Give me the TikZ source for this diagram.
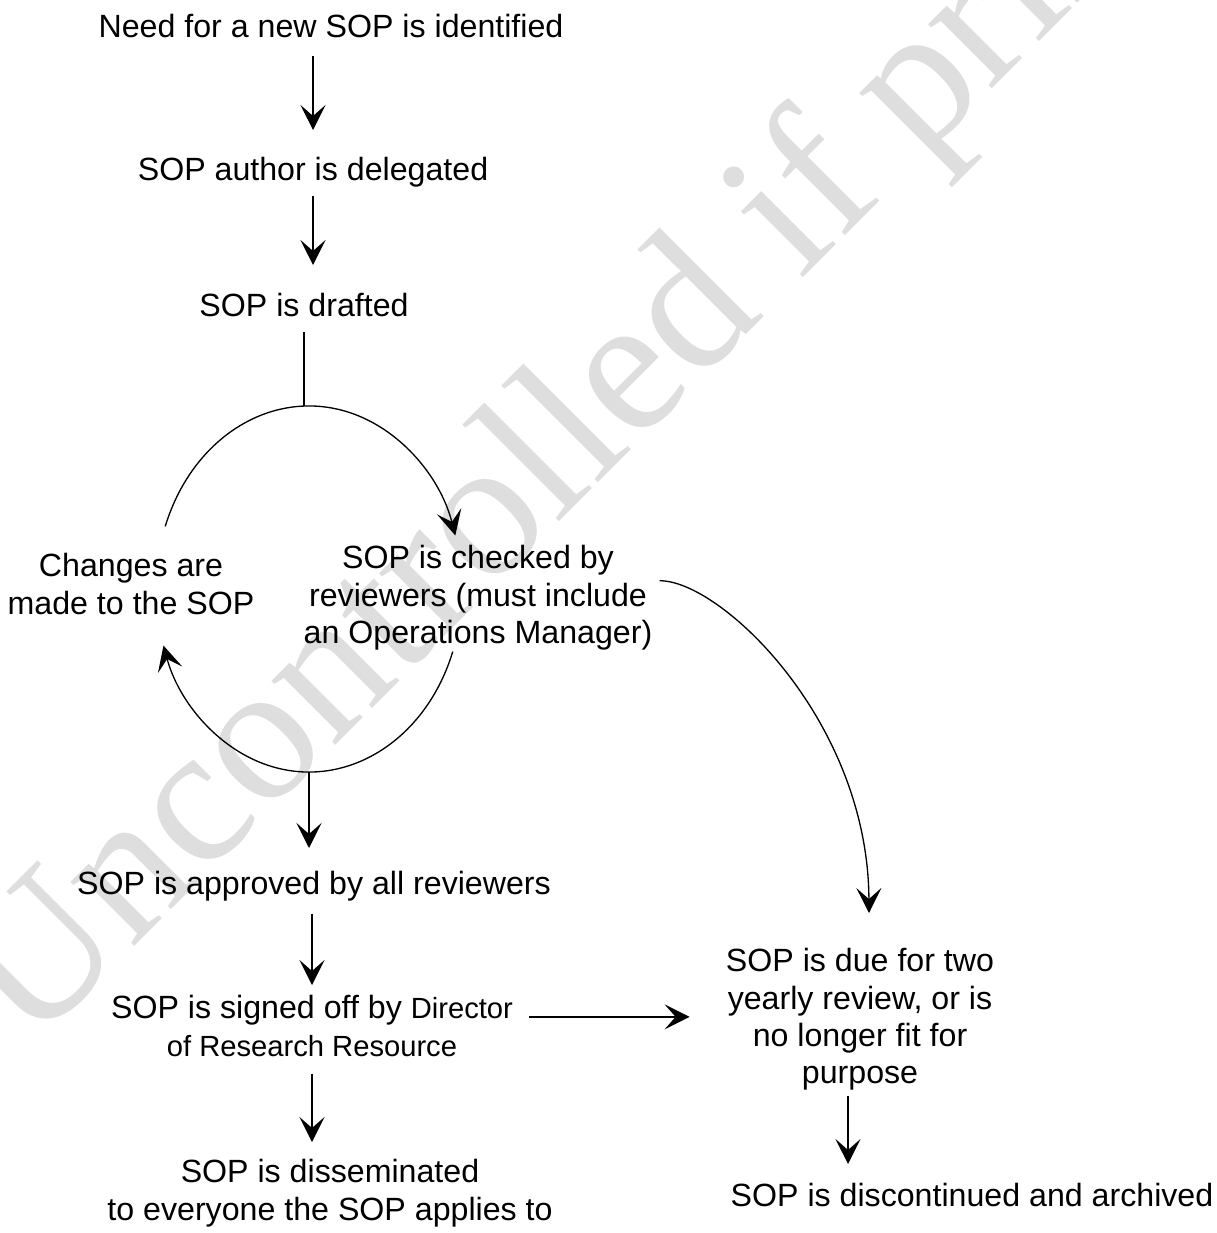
\documentclass[tikz,border=0pt]{standalone}
\usepackage{fontspec}
\setmainfont{Liberation Sans}
\newfontfamily\wmfont{Liberation Serif}
\usetikzlibrary{arrows.meta}

\newcommand{\smalltxt}{\fontsize{16.6}{21.3}\selectfont}

\tikzset{
	stage/.style={anchor=north, align=center, inner sep=0pt, font=\fontsize{18.3}{21.3}\selectfont},
	arr/.style={line width=0.75pt, -{Stealth[length=0.5cm, width=0.5cm, inset=0.22cm]}},
	link/.style={line width=0.75pt}
}

\begin{document}
\begin{tikzpicture}

		\useasboundingbox (0,0) rectangle (24.32,-24.66);

		% watermark
		\begin{scope}
			\clip (0,0) rectangle (24.32,-24.66);
			\node[anchor=base west, rotate=45, inner sep=0pt, text=black!13, font=\wmfont\fontsize{112}{120}\selectfont] (mark) at (0.62,-21.0) {Uncontrolled if printed};
		\end{scope}

		\node[stage] (need) at (6.62,-0.28) {Need for a new SOP is identified};
		\node[stage] (author) at (6.26,-3.14) {SOP author is delegated};
		\node[stage] (drafted) at (6.08,-5.86) {SOP is drafted};
		\node[stage] (changes) at (2.62,-11.06) {Changes are\\made to the SOP};
		\node[stage] (checked) at (9.56,-10.90) {SOP is checked by\\reviewers (must include\\an Operations Manager)};
		\node[stage] (approved) at (6.28,-17.42) {SOP is approved by all reviewers};
		\node[stage] (signed) at (6.24,-19.90) {SOP is signed off by {\smalltxt Director}\\{\smalltxt of Research Resource}};
		\node[stage] (dissem) at (6.60,-23.18) {SOP is disseminated\\to everyone the SOP applies to};
		\node[stage] (due) at (17.20,-18.96) {SOP is due for two\\yearly review, or is\\no longer fit for\\purpose};
		\node[stage] (disc) at (19.44,-23.66) {SOP is discontinued and archived};

		% review loop
		\coordinate (loop) at (6.18,-11.78);
		\coordinate (looptop) at ([yshift=3.66cm]loop);
		\coordinate (loopbot) at ([yshift=-3.66cm]loop);

		\draw[arr, shorten <=0.36cm, shorten >=0.54cm] (need.south -| author.north) -- (author.north);
		\draw[arr, shorten <=0.16cm, shorten >=0.56cm] (author.south) -- (author.south |- drafted.north);
		\draw[link, shorten <=0.3cm] (drafted.south) -- (drafted.south |- looptop);

		\draw[arr] ([shift={(160:3.06 and 3.66)}]loop) arc[start angle=160, end angle=17, x radius=3.06, y radius=3.66];
		\draw[arr] ([shift={(-20:3.06 and 3.66)}]loop) arc[start angle=-20, end angle=-162, x radius=3.06, y radius=3.66];

		\draw[arr, shorten >=0.46cm] (loopbot) -- (loopbot |- approved.north);
		\draw[arr, shorten <=0.24cm, shorten >=0.2cm] (approved.south -| signed.north) -- (signed.north);
		\draw[arr, shorten <=0.34cm, shorten >=0.34cm] (signed.south) -- (signed.south |- dissem.north);

		\draw[arr, shorten <=0.32cm, shorten >=0.72cm] ([yshift=0.18cm]signed.east) -- ([yshift=0.18cm]signed.east -| due.west);

		\coordinate (cstart) at ([xshift=0.14cm, yshift=0.34cm]checked.east);
		\coordinate (cend) at ([xshift=0.18cm, yshift=0.7cm]due.north);
		\draw[arr] (cstart) .. controls (14.4,-11.6) and (17.36,-14.4) .. (cend);

		\draw[arr, shorten <=0.1cm, shorten >=0.38cm] ([xshift=-0.24cm]due.south) -- ([xshift=-0.24cm]due.south |- disc.north);

\end{tikzpicture}
\end{document}
